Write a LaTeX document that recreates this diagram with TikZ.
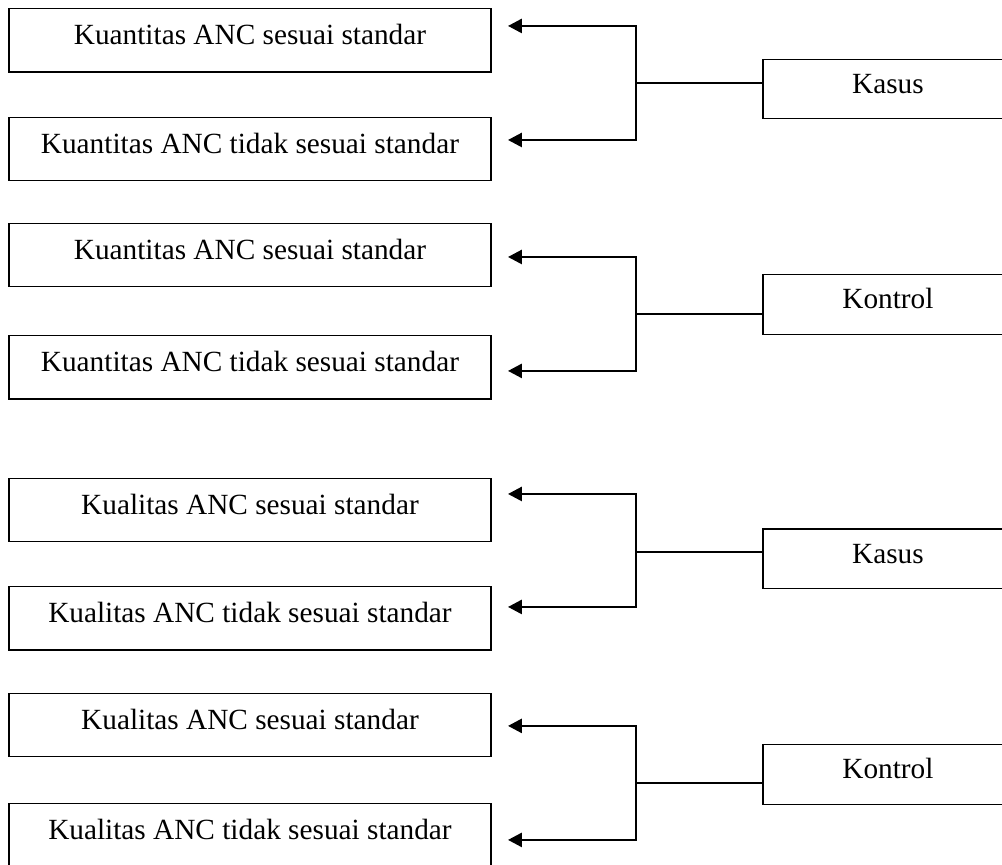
\documentclass[tikz,border=0pt]{standalone}
\usepackage{fontspec}
\setmainfont{Liberation Serif}
\usepackage{xcolor}
\usetikzlibrary{arrows.meta}

\tikzset{
  pilihan/.style={draw, line width=0.5pt, minimum width=6.94cm, minimum height=0.91cm,
    inner sep=0pt, text height=0.7em, text depth=0.35em, font=\fontsize{12}{14}\selectfont},
  kelompok/.style={pilihan, minimum width=3.6cm, minimum height=0.86cm},
  garis/.style={line width=1.1pt},
  panah/.style={garis, -{Triangle[length=5.7pt,width=5.7pt]}}
}

\begin{document}
\begin{tikzpicture}
				\useasboundingbox (0,0) rectangle (14.43,12.456);
				
				% Kuantitas - kasus
				\node[pilihan] (kua1) at (3.6,11.873) {Kuantitas ANC sesuai standar};
				\node[pilihan] (kua2) at (3.6,10.31) {Kuantitas ANC tidak sesuai standar};
				\node[kelompok] (kasus1) at (12.787,11.174) {Kasus};
				\coordinate (j1) at (9.158,11.261);
				\coordinate (t1) at (7.315,12.082);
				\coordinate (t2) at (7.315,10.44);
				\draw[garis] (kasus1.west |- j1) -- (j1);
				\draw[panah] (j1) |- (t1);
				\draw[panah] (j1) |- (t2);
				
				% Kuantitas - kontrol
				\node[pilihan] (kua3) at (3.6,8.784) {Kuantitas ANC sesuai standar};
				\node[pilihan] (kua4) at (3.6,7.164) {Kuantitas ANC tidak sesuai standar};
				\node[kelompok] (kontrol1) at (12.787,8.071) {Kontrol};
				\coordinate (j2) at (9.158,7.934);
				\coordinate (t3) at (7.315,8.755);
				\coordinate (t4) at (7.315,7.114);
				\draw[garis] (kontrol1.west |- j2) -- (j2);
				\draw[panah] (j2) |- (t3);
				\draw[panah] (j2) |- (t4);
				
				% Kualitas - kasus
				\node[pilihan] (kul1) at (3.6,5.112) {Kualitas ANC sesuai standar};
				\node[pilihan] (kul2) at (3.6,3.55) {Kualitas ANC tidak sesuai standar};
				\node[kelompok] (kasus2) at (12.787,4.406) {Kasus};
				\coordinate (j3) at (9.158,4.507);
				\coordinate (t5) at (7.315,5.342);
				\coordinate (t6) at (7.315,3.715);
				\draw[garis] (kasus2.west |- j3) -- (j3);
				\draw[panah] (j3) |- (t5);
				\draw[panah] (j3) |- (t6);
				
				% Kualitas - kontrol
				\node[pilihan] (kul3) at (3.6,2.016) {Kualitas ANC sesuai standar};
				\node[pilihan] (kul4) at (3.6,0.425) {Kualitas ANC tidak sesuai standar};
				\node[kelompok] (kontrol2) at (12.787,1.303) {Kontrol};
				\coordinate (j4) at (9.158,1.181);
				\coordinate (t7) at (7.315,2.002);
				\coordinate (t8) at (7.315,0.36);
				\draw[garis] (kontrol2.west |- j4) -- (j4);
				\draw[panah] (j4) |- (t7);
				\draw[panah] (j4) |- (t8);
			\end{tikzpicture}
\end{document}
